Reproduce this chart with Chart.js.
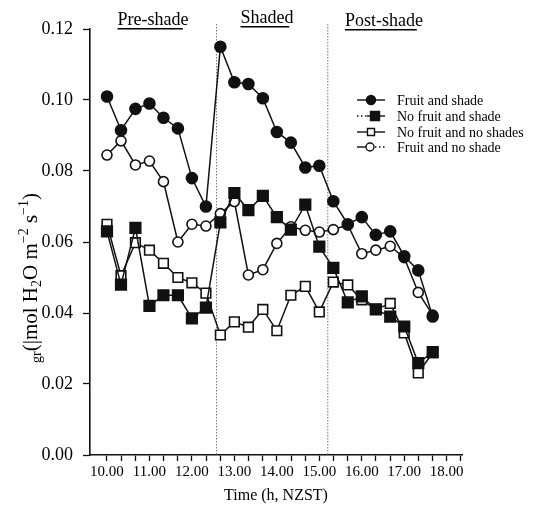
<!DOCTYPE html>
<html>
<head>
<meta charset="utf-8">
<script src="https://cdn.jsdelivr.net/npm/chart.js@4.4.1/dist/chart.umd.min.js"></script>
<style>
  html, body { margin: 0; padding: 0; background: #fff; }
</style>
</head>
<body>
<canvas id="chart" width="544" height="508"></canvas>
<script>
// Measurement times (h, NZST), every 20 min from 10.00 to 17.40
const times = [10.00, 10.33, 10.67, 11.00, 11.33, 11.67, 12.00, 12.33, 12.67, 13.00, 13.33, 13.67,
  14.00, 14.33, 14.67, 15.00, 15.33, 15.67, 16.00, 16.33, 16.67, 17.00, 17.33, 17.67];

const fruitShade = [0.101, 0.0915, 0.0975, 0.099, 0.095, 0.092, 0.078, 0.070, 0.115, 0.105, 0.1045, 0.1005,
  0.091, 0.088, 0.081, 0.0815, 0.0715, 0.065, 0.067, 0.062, 0.063, 0.056, 0.052, 0.039];
const noFruitShade = [0.063, 0.048, 0.064, 0.042, 0.045, 0.045, 0.0385, 0.0415, 0.0655, 0.0738, 0.069, 0.073,
  0.067, 0.0635, 0.0705, 0.0587, 0.0527, 0.043, 0.0447, 0.041, 0.039, 0.0362, 0.0259, 0.029];
const noFruitNoShade = [0.065, 0.0505, 0.0598, 0.0577, 0.054, 0.050, 0.0485, 0.0456, 0.0338, 0.0375, 0.036, 0.041,
  0.035, 0.045, 0.0475, 0.0403, 0.0487, 0.0479, 0.0437, 0.041, 0.0427, 0.0344, 0.0231, 0.0288];
const fruitNoShade = [0.0845, 0.0885, 0.0817, 0.0828, 0.077, 0.060, 0.065, 0.0645, 0.068, 0.0714, 0.0507, 0.0522,
  0.0596, 0.0643, 0.0633, 0.0628, 0.0635, 0.0648, 0.0567, 0.0577, 0.0588, 0.0556, 0.0458, 0.0394];

const seriesLabels = ['Fruit and shade', 'No fruit and shade', 'No fruit and no shades', 'Fruit and no shade'];

const xHours = [10, 11, 12, 13, 14, 15, 16, 17, 18];
const yTicks = [0, 0.02, 0.04, 0.06, 0.08, 0.10, 0.12];

// shading period boundaries and phase labels
const shadeBounds = [12.58, 15.2];
const phaseLabels = ['Pre-shade', 'Shaded', 'Post-shade'];

const FONT = '"Liberation Serif", "Times New Roman", serif';
Chart.defaults.font.family = FONT;
Chart.defaults.color = '#000';

function points(values) {
  return values.map((v, i) => ({ x: times[i], y: v }));
}

function series(label, values, style, fill, radius) {
  return {
    label,
    data: points(values),
    borderColor: '#111',
    borderWidth: 1.5,
    pointStyle: style,
    pointRadius: radius,
    pointBackgroundColor: fill,
    pointBorderColor: '#111',
    pointBorderWidth: 1.6,
    tension: 0,
  };
}

function drawMarker(ctx, style, fill, x, y, r) {
  ctx.save();
  ctx.fillStyle = fill;
  ctx.strokeStyle = '#111';
  ctx.lineWidth = 1.4;
  ctx.beginPath();
  if (style === 'circle') ctx.arc(x, y, r, 0, Math.PI * 2);
  else ctx.rect(x - r, y - r, 2 * r, 2 * r);
  ctx.fill();
  ctx.stroke();
  ctx.restore();
}

function segment(ctx, x1, x2, y, dotted) {
  ctx.save();
  ctx.strokeStyle = '#111';
  ctx.lineWidth = 1.4;
  if (dotted) ctx.setLineDash([1.5, 2.5]);
  ctx.beginPath();
  ctx.moveTo(x1, y);
  ctx.lineTo(x2, y);
  ctx.stroke();
  ctx.restore();
}

const decorations = {
  id: 'decorations',
  beforeDatasetsDraw(chart) {
    const { ctx, chartArea, scales } = chart;
    ctx.save();
    ctx.strokeStyle = '#777';
    ctx.lineWidth = 1;
    ctx.setLineDash([1.5, 1.5]);
    shadeBounds.forEach((b) => {
      const x = scales.x.getPixelForValue(b);
      ctx.beginPath();
      ctx.moveTo(x, 24);
      ctx.lineTo(x, chartArea.bottom);
      ctx.stroke();
    });
    ctx.restore();
  },
  afterDraw(chart) {
    const { ctx } = chart;

    // phase labels with underline
    const phasePos = [[153, 25], [267, 23], [384, 26]];
    ctx.save();
    ctx.font = '18px ' + FONT;
    ctx.textAlign = 'center';
    ctx.textBaseline = 'alphabetic';
    ctx.fillStyle = '#000';
    phaseLabels.forEach((txt, i) => {
      const [x, y] = phasePos[i];
      ctx.fillText(txt, x, y);
      const w = ctx.measureText(txt).width;
      ctx.fillRect(x - w / 2, y + 3, w * 0.92, 1.5);
    });
    ctx.restore();

    // legend
    const rows = [100, 116, 132, 147];
    segment(ctx, 357, 385, rows[0], false);
    drawMarker(ctx, 'circle', '#111', 371, rows[0], 4.5);
    segment(ctx, 357, 367, rows[1], true);
    segment(ctx, 367, 385, rows[1], false);
    drawMarker(ctx, 'rect', '#111', 375, rows[1], 4.5);
    segment(ctx, 357, 385, rows[2], false);
    drawMarker(ctx, 'rect', '#fff', 371, rows[2], 3.5);
    segment(ctx, 357, 368, rows[3], false);
    segment(ctx, 375, 385, rows[3], true);
    drawMarker(ctx, 'circle', '#fff', 370, rows[3], 4);
    ctx.save();
    ctx.font = '14px ' + FONT;
    ctx.textBaseline = 'middle';
    ctx.fillStyle = '#000';
    seriesLabels.forEach((txt, i) => ctx.fillText(txt, 397, rows[i] + 1));
    ctx.restore();

    // y axis title with sub/superscripts, rotated
    const parts = [
      ['gr', 14, 4], ['(|mol H', 21, 0], ['2', 14, 4], ['O m', 21, 0],
      ['\u22122', 14, -9], [' s', 21, 0], ['\u22121', 14, -9], [')', 21, 0],
    ];
    ctx.save();
    ctx.translate(37, 278);
    ctx.rotate(-Math.PI / 2);
    ctx.fillStyle = '#000';
    ctx.textBaseline = 'alphabetic';
    let total = 0;
    parts.forEach(([t, s]) => { ctx.font = s + 'px ' + FONT; total += ctx.measureText(t).width; });
    let u = -total / 2;
    parts.forEach(([t, s, dv]) => {
      ctx.font = s + 'px ' + FONT;
      ctx.fillText(t, u, dv);
      u += ctx.measureText(t).width;
    });
    ctx.restore();
  },
};

new Chart(document.getElementById('chart'), {
  type: 'line',
  data: {
    datasets: [
      series(seriesLabels[0], fruitShade, 'circle', '#111', 5.5),
      series(seriesLabels[1], noFruitShade, 'rect', '#111', 7.5),
      series(seriesLabels[2], noFruitNoShade, 'rect', '#fff', 6.8),
      series(seriesLabels[3], fruitNoShade, 'circle', '#fff', 5),
    ],
  },
  options: {
    responsive: false,
    animation: false,
    layout: { padding: { top: 29, right: 82, left: 0, bottom: 0 } },
    plugins: { legend: { display: false }, tooltip: { enabled: false } },
    scales: {
      x: {
        type: 'linear',
        min: 9.6,
        max: 18.36,
        afterBuildTicks(scale) {
          scale.ticks = xHours.flatMap((h) => [h, h + 1 / 3, h + 2 / 3])
            .filter((v) => v <= 18.34).map((v) => ({ value: v }));
        },
        afterFit(scale) { scale.height = 53; },
        ticks: {
          autoSkip: false,
          maxRotation: 0,
          padding: 2,
          font: { size: 15 },
          callback: (v) => (Number.isInteger(v) ? v.toFixed(2) : ''),
        },
        grid: { drawOnChartArea: false, tickLength: 6, color: '#111', tickWidth: 1.3 },
        border: { color: '#111', width: 1.6 },
        title: { display: true, text: 'Time (h, NZST)', font: { size: 16 }, padding: { top: 0, bottom: 3 } },
      },
      y: {
        min: 0,
        max: 0.12,
        afterBuildTicks(scale) { scale.ticks = yTicks.map((v) => ({ value: v })); },
        afterFit(scale) { scale.width = 90; },
        ticks: { padding: 10, font: { size: 18 }, callback: (v) => v.toFixed(2) },
        grid: { drawOnChartArea: false, tickLength: 7, color: '#111', tickWidth: 1.3 },
        border: { color: '#111', width: 1.6 },
      },
    },
  },
  plugins: [decorations],
});
</script>
</body>
</html>
